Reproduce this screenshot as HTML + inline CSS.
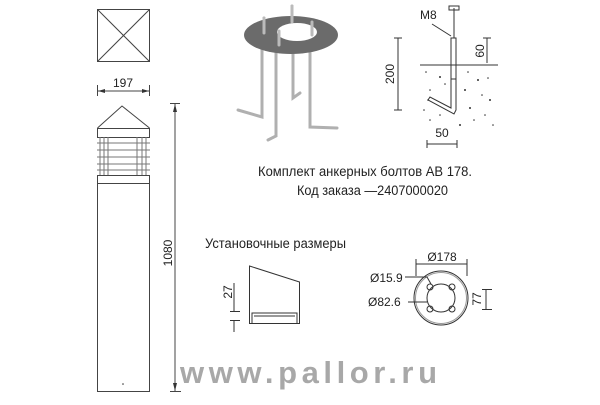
<!DOCTYPE html>
<html><head><meta charset="utf-8"><style>
body{margin:0;background:#fff;width:600px;height:400px;overflow:hidden}
svg text{font-family:"Liberation Sans","DejaVu Sans",sans-serif;fill:#222}
</style></head><body>
<svg width="600" height="400" viewBox="0 0 600 400" xmlns="http://www.w3.org/2000/svg">
<g stroke="#444" stroke-width="1" fill="none">
<rect x="97.5" y="9.5" width="52" height="52"/>
<line x1="97.5" y1="9.5" x2="149.5" y2="61.5"/><line x1="149.5" y1="9.5" x2="97.5" y2="61.5"/>
<line x1="97.5" y1="85" x2="97.5" y2="96"/><line x1="149.5" y1="85" x2="149.5" y2="96"/>
<line x1="98" y1="91" x2="149" y2="91"/>
<polyline points="97.5,128 122,106 149.5,128"/>
<rect x="97.5" y="128.5" width="52" height="9"/>
<g stroke="#777">
<line x1="97" y1="143" x2="150" y2="143"/><line x1="97" y1="150" x2="150" y2="150"/>
<line x1="97" y1="157" x2="150" y2="157"/><line x1="97" y1="164" x2="150" y2="164"/>
<line x1="97" y1="170" x2="150" y2="170"/>
<line x1="100" y1="137" x2="100" y2="175"/><line x1="104" y1="137" x2="104" y2="175"/>
<line x1="108" y1="137" x2="108" y2="175"/><line x1="137" y1="137" x2="137" y2="175"/>
<line x1="142" y1="137" x2="142" y2="175"/><line x1="146" y1="137" x2="146" y2="175"/>
</g>
<rect x="97.5" y="175.5" width="52" height="8"/>
<rect x="97.5" y="183.5" width="52" height="208"/>
<line x1="175" y1="104" x2="175" y2="391"/>
<line x1="170" y1="103.5" x2="180" y2="103.5"/><line x1="170" y1="391.5" x2="181" y2="391.5"/>
</g>
<circle cx="123" cy="384" r="0.8" fill="#333"/>
<polygon points="175,104 173,112 177,112" fill="#333"/><polygon points="175,391 173,383 177,383" fill="#333"/>
<polygon points="98,91 105,89 105,93" fill="#333"/><polygon points="149,91 142,89 142,93" fill="#333"/>
<text x="123" y="87" font-size="12" text-anchor="middle">197</text>
<text x="0" y="0" font-size="12" text-anchor="middle" transform="translate(172,253) rotate(-90)">1080</text>

<g stroke="#b0b0b0" stroke-width="3" fill="none" stroke-linecap="round">
<polyline points="262,48 262,117 238,110"/>
<polyline points="276,45 276,136 268,140"/>
<polyline points="310,45 310,127 337,128"/>
<polyline points="293,45 293,98 300,93"/>
<line x1="264" y1="18" x2="264" y2="38"/><line x1="292" y1="6" x2="292" y2="25"/>
<line x1="312" y1="22" x2="312" y2="40"/><line x1="279" y1="31" x2="279" y2="45"/>
</g>
<ellipse cx="291" cy="35" rx="47" ry="19" fill="#6b6b6b"/>
<ellipse cx="297" cy="32" rx="20" ry="9" fill="#fff"/>
<g stroke="#bbb" stroke-width="3" stroke-linecap="round">
<line x1="264" y1="18" x2="264" y2="33"/><line x1="292" y1="6" x2="292" y2="22"/>
<line x1="312" y1="22" x2="312" y2="35"/><line x1="279" y1="31" x2="279" y2="45"/>
</g>

<g stroke="#333" fill="none" stroke-width="1">
<line x1="420" y1="65" x2="498" y2="65"/>
<rect x="451" y="38" width="5" height="41"/>
<polyline points="451,79 451,108 430,97 428,100 454,114 456,110 456,79"/>
<line x1="454" y1="8" x2="454" y2="38"/>
<rect x="449" y="6" width="10" height="4"/>
<line x1="432" y1="24" x2="451" y2="36"/>
<line x1="398" y1="38" x2="398" y2="110"/><line x1="394" y1="38" x2="402" y2="38"/><line x1="394" y1="110" x2="402" y2="110"/>
<line x1="487" y1="38" x2="487" y2="63"/><line x1="483" y1="38" x2="491" y2="38"/>
<line x1="427" y1="144" x2="457" y2="144"/><line x1="427" y1="140" x2="427" y2="148"/><line x1="457" y1="140" x2="457" y2="148"/>
</g>
<g fill="#333">
<circle cx="426" cy="72" r=".8"/><circle cx="440" cy="77" r="1"/><circle cx="468" cy="72" r=".8"/><circle cx="478" cy="80" r="1"/>
<circle cx="430" cy="90" r=".8"/><circle cx="465" cy="90" r="1"/><circle cx="482" cy="95" r=".8"/><circle cx="490" cy="100" r="1"/>
<circle cx="424" cy="110" r=".8"/><circle cx="470" cy="108" r="1"/><circle cx="485" cy="115" r=".8"/><circle cx="440" cy="115" r=".8"/>
<circle cx="474" cy="120" r=".8"/><circle cx="430" cy="120" r=".8"/><circle cx="493" cy="125" r=".8"/><circle cx="460" cy="125" r="1"/>
<circle cx="445" cy="84" r=".8"/><circle cx="488" cy="78" r=".8"/><circle cx="428" cy="100" r=".8"/>
</g>
<text x="420" y="19" font-size="12">M8</text>
<text font-size="12" text-anchor="middle" transform="translate(394,74) rotate(-90)">200</text>
<text font-size="12" text-anchor="middle" transform="translate(484,51) rotate(-90)">60</text>
<text x="442" y="137" font-size="12" text-anchor="middle">50</text>

<text x="258" y="176" font-size="13.5" textLength="214" lengthAdjust="spacingAndGlyphs">Комплект анкерных болтов АВ 178.</text>
<text x="297" y="195" font-size="13.5" textLength="151" lengthAdjust="spacingAndGlyphs">Код заказа —2407000020</text>
<text x="205" y="248" font-size="13.5" textLength="141" lengthAdjust="spacingAndGlyphs">Установочные размеры</text>

<g stroke="#333" fill="none">
<polygon points="249.5,266 299.5,282 299.5,323.5 249.5,323.5"/>
<polyline points="252,323 252,313 297,313 297,323"/>
<line x1="254" y1="316" x2="295" y2="316"/>
<line x1="234" y1="283" x2="234" y2="311"/><line x1="230" y1="311.5" x2="240" y2="311.5"/>
<line x1="230" y1="320.5" x2="240" y2="320.5"/><line x1="234" y1="321" x2="234" y2="332"/>
<circle cx="441" cy="298" r="27"/><circle cx="441" cy="298" r="25.5" stroke="#999"/>
<circle cx="441" cy="298" r="14"/>
<circle cx="430" cy="287" r="3"/><circle cx="452" cy="287" r="3"/><circle cx="430" cy="309" r="3"/><circle cx="452" cy="309" r="3"/>
<line x1="416" y1="264" x2="467" y2="264"/><line x1="416" y1="259" x2="416" y2="276"/><line x1="467" y1="259" x2="467" y2="276"/>
<line x1="405" y1="277" x2="427" y2="277"/><line x1="427" y1="277" x2="431" y2="284"/>
<line x1="408" y1="302" x2="427" y2="302"/>
<line x1="486" y1="290" x2="486" y2="309"/><line x1="482" y1="289.5" x2="492" y2="289.5"/><line x1="482" y1="309.5" x2="492" y2="309.5"/>
</g>
<text font-size="12" text-anchor="middle" transform="translate(232,292) rotate(-90)">27</text>
<text font-size="12" text-anchor="middle" transform="translate(481,299) rotate(-90)">77</text>
<text x="442" y="261" font-size="12" text-anchor="middle">Ø178</text>
<text x="370" y="282" font-size="12">Ø15.9</text>
<text x="368" y="306" font-size="12">Ø82.6</text>

<text x="180" y="383" font-size="31" font-weight="bold" textLength="257" lengthAdjust="spacing" style="fill:#a8a8a8">www.pallor.ru</text>
</svg>
</body></html>
